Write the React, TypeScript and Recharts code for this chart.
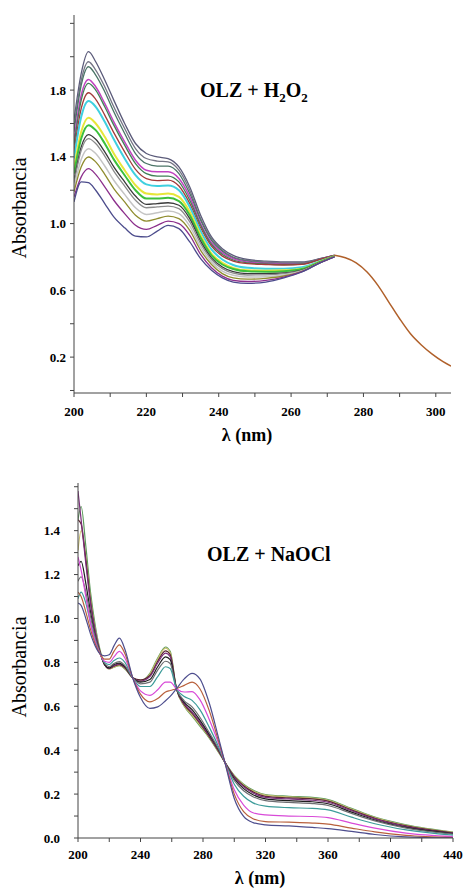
import React from 'react';
import { LineChart, Line, XAxis, YAxis } from 'recharts';

// ---------- Top panel: OLZ + H2O2 ----------
const topWavelengths = [200, 202, 204, 206, 208.5, 211, 214, 217, 220, 223, 226, 229, 232, 235, 238, 241, 244, 248, 253, 258, 263, 268, 272];
const topS1 = [1.62, 1.9, 2.03, 1.97, 1.86, 1.74, 1.6, 1.48, 1.42, 1.4, 1.39, 1.34, 1.22, 1.05, 0.92, 0.85, 0.81, 0.785, 0.775, 0.77, 0.77, 0.79, 0.81];
const topS2 = [1.58, 1.86, 1.97, 1.92, 1.82, 1.7, 1.57, 1.45, 1.39, 1.375, 1.37, 1.32, 1.2, 1.03, 0.91, 0.84, 0.8, 0.78, 0.77, 0.765, 0.765, 0.79, 0.81];
const topS3 = [1.55, 1.83, 1.94, 1.89, 1.79, 1.67, 1.54, 1.42, 1.36, 1.345, 1.345, 1.3, 1.18, 1.02, 0.9, 0.835, 0.795, 0.775, 0.765, 0.76, 0.762, 0.788, 0.81];
const topS4 = [1.5, 1.77, 1.864, 1.82, 1.72, 1.61, 1.49, 1.38, 1.32, 1.31, 1.31, 1.27, 1.16, 1.0, 0.885, 0.825, 0.79, 0.77, 0.762, 0.758, 0.76, 0.787, 0.81];
const topS5 = [1.47, 1.74, 1.84, 1.8, 1.7, 1.59, 1.47, 1.36, 1.3, 1.285, 1.285, 1.25, 1.14, 0.99, 0.875, 0.815, 0.782, 0.765, 0.758, 0.755, 0.758, 0.786, 0.81];
const topS6 = [1.43, 1.69, 1.784, 1.745, 1.65, 1.545, 1.43, 1.325, 1.27, 1.258, 1.26, 1.225, 1.12, 0.975, 0.865, 0.805, 0.775, 0.76, 0.755, 0.752, 0.756, 0.785, 0.81];
const topS7 = [1.39, 1.64, 1.734, 1.7, 1.61, 1.505, 1.39, 1.29, 1.235, 1.225, 1.228, 1.2, 1.1, 0.955, 0.845, 0.785, 0.752, 0.735, 0.73, 0.73, 0.738, 0.775, 0.805];
const topS8 = [1.33, 1.55, 1.634, 1.6, 1.52, 1.42, 1.32, 1.23, 1.18, 1.175, 1.18, 1.16, 1.07, 0.93, 0.82, 0.765, 0.735, 0.72, 0.718, 0.72, 0.73, 0.772, 0.805];
const topS9 = [1.3, 1.51, 1.59, 1.56, 1.48, 1.385, 1.29, 1.2, 1.15, 1.15, 1.155, 1.135, 1.05, 0.915, 0.81, 0.755, 0.728, 0.714, 0.712, 0.715, 0.728, 0.77, 0.805];
const topS10 = [1.26, 1.46, 1.533, 1.505, 1.43, 1.34, 1.25, 1.165, 1.115, 1.12, 1.125, 1.11, 1.03, 0.895, 0.795, 0.74, 0.712, 0.7, 0.7, 0.705, 0.722, 0.768, 0.803];
const topS11 = [1.24, 1.44, 1.509, 1.48, 1.405, 1.315, 1.225, 1.14, 1.095, 1.1, 1.105, 1.09, 1.01, 0.88, 0.785, 0.73, 0.703, 0.692, 0.693, 0.7, 0.72, 0.767, 0.803];
const topS12 = [1.21, 1.385, 1.449, 1.42, 1.345, 1.26, 1.175, 1.095, 1.055, 1.065, 1.075, 1.06, 0.985, 0.86, 0.77, 0.715, 0.69, 0.68, 0.682, 0.692, 0.716, 0.766, 0.802];
const topS13 = [1.19, 1.34, 1.399, 1.37, 1.295, 1.21, 1.13, 1.05, 1.015, 1.03, 1.045, 1.03, 0.96, 0.84, 0.755, 0.7, 0.675, 0.667, 0.672, 0.686, 0.714, 0.766, 0.802];
const topS14 = [1.16, 1.28, 1.329, 1.295, 1.22, 1.14, 1.06, 0.99, 0.965, 0.99, 1.015, 1.0, 0.93, 0.815, 0.735, 0.685, 0.66, 0.653, 0.66, 0.68, 0.712, 0.765, 0.801];
const topS15 = [1.13, 1.25, 1.245, 1.2, 1.12, 1.04, 0.975, 0.925, 0.92, 0.955, 0.99, 0.97, 0.89, 0.79, 0.72, 0.675, 0.65, 0.642, 0.65, 0.675, 0.71, 0.765, 0.8];
const topTailWavelengths = [272, 275, 278, 281, 284, 287, 290, 293, 296, 299, 302, 304.2];
const topTailValues = [0.81, 0.795, 0.765, 0.71, 0.63, 0.53, 0.43, 0.34, 0.273, 0.218, 0.173, 0.146];

const topXTicks = [200, 210, 220, 230, 240, 250, 260, 270, 280, 290, 300];
const topXLabels = [200, 220, 240, 260, 280, 300];
const topYTicks = [0, 0.2, 0.4, 0.6, 0.8, 1.0, 1.2, 1.4, 1.6, 1.8, 2.0, 2.2];
const topYLabels = [0.2, 0.6, 1.0, 1.4, 1.8];

// ---------- Bottom panel: OLZ + NaOCl ----------
const botWavelengths = [200, 202, 205, 208, 211, 214, 217, 220, 223, 226.5, 230, 235, 240, 246, 251, 256, 259, 263, 268, 273, 278, 284, 290, 294, 300, 306, 312, 320, 335, 350, 360, 375, 390, 410, 440];
const botGreen = [1.45, 1.51, 1.33, 1.12, 0.97, 0.86, 0.79, 0.77, 0.778, 0.785, 0.77, 0.73, 0.715, 0.75, 0.82, 0.87, 0.85, 0.68, 0.6, 0.555, 0.51, 0.455, 0.39, 0.345, 0.285, 0.245, 0.218, 0.198, 0.19, 0.185, 0.175, 0.135, 0.095, 0.06, 0.027];
const botYellow = [1.31, 1.4, 1.28, 1.09, 0.95, 0.855, 0.79, 0.77, 0.778, 0.786, 0.772, 0.73, 0.717, 0.747, 0.815, 0.865, 0.845, 0.68, 0.602, 0.56, 0.515, 0.458, 0.392, 0.345, 0.283, 0.242, 0.215, 0.195, 0.187, 0.182, 0.172, 0.132, 0.093, 0.058, 0.026];
const botDarkBrown = [1.45, 1.43, 1.27, 1.08, 0.94, 0.85, 0.79, 0.772, 0.782, 0.79, 0.775, 0.73, 0.72, 0.74, 0.805, 0.852, 0.835, 0.68, 0.607, 0.568, 0.522, 0.462, 0.395, 0.345, 0.28, 0.238, 0.21, 0.19, 0.183, 0.178, 0.168, 0.128, 0.09, 0.055, 0.024];
const botPurple = [1.58, 1.45, 1.25, 1.07, 0.94, 0.85, 0.79, 0.773, 0.785, 0.793, 0.777, 0.73, 0.715, 0.735, 0.797, 0.842, 0.826, 0.68, 0.612, 0.575, 0.528, 0.466, 0.398, 0.345, 0.276, 0.233, 0.205, 0.185, 0.178, 0.172, 0.163, 0.124, 0.087, 0.052, 0.022];
const botBlack = [1.24, 1.26, 1.16, 1.03, 0.92, 0.845, 0.79, 0.775, 0.79, 0.797, 0.78, 0.73, 0.71, 0.722, 0.78, 0.825, 0.812, 0.68, 0.618, 0.585, 0.537, 0.472, 0.402, 0.345, 0.27, 0.225, 0.197, 0.178, 0.17, 0.165, 0.156, 0.118, 0.082, 0.048, 0.02];
const botGray = [1.17, 1.19, 1.12, 1.01, 0.915, 0.845, 0.795, 0.78, 0.795, 0.803, 0.785, 0.73, 0.702, 0.71, 0.765, 0.805, 0.795, 0.68, 0.625, 0.597, 0.55, 0.48, 0.405, 0.345, 0.262, 0.215, 0.188, 0.17, 0.162, 0.157, 0.148, 0.112, 0.078, 0.045, 0.018];
const botTeal = [1.09, 1.12, 1.07, 0.98, 0.9, 0.842, 0.8, 0.79, 0.808, 0.82, 0.8, 0.73, 0.69, 0.69, 0.735, 0.78, 0.772, 0.68, 0.645, 0.627, 0.585, 0.505, 0.415, 0.345, 0.245, 0.19, 0.16, 0.145, 0.138, 0.135, 0.128, 0.095, 0.065, 0.037, 0.013];
const botMagenta = [1.28, 1.22, 1.1, 0.98, 0.895, 0.84, 0.805, 0.8, 0.825, 0.85, 0.82, 0.73, 0.67, 0.65, 0.675, 0.71, 0.71, 0.68, 0.665, 0.667, 0.63, 0.54, 0.43, 0.345, 0.22, 0.15, 0.115, 0.105, 0.1, 0.098, 0.093, 0.068, 0.045, 0.022, 0.006];
const botBrown = [1.12, 1.1, 1.03, 0.95, 0.885, 0.84, 0.815, 0.815, 0.85, 0.88, 0.84, 0.73, 0.655, 0.62, 0.635, 0.665, 0.672, 0.68, 0.695, 0.71, 0.68, 0.58, 0.44, 0.345, 0.2, 0.12, 0.088, 0.075, 0.072, 0.068, 0.063, 0.045, 0.028, 0.012, 0.002];
const botNavy = [1.07, 1.06, 1.0, 0.93, 0.875, 0.84, 0.83, 0.835, 0.875, 0.91, 0.86, 0.73, 0.64, 0.59, 0.597, 0.625, 0.645, 0.68, 0.725, 0.75, 0.725, 0.615, 0.455, 0.345, 0.18, 0.098, 0.07, 0.06, 0.055, 0.048, 0.043, 0.03, 0.016, 0.005, 0.0];

const botXTicks = [200, 220, 240, 260, 280, 300, 320, 340, 360, 380, 400, 420, 440];
const botXLabels = [200, 240, 280, 320, 360, 400, 440];
const botYTicks = [0, 0.1, 0.2, 0.3, 0.4, 0.5, 0.6, 0.7, 0.8, 0.9, 1.0, 1.1, 1.2, 1.3, 1.4, 1.5, 1.6];
const botYLabels = [0, 0.2, 0.4, 0.6, 0.8, 1.0, 1.2, 1.4];

// ---------- styles (kept apart from data) ----------
const topSeries = [
  { values: topS1, color: '#5b5b7a', w: 1.3 },
  { values: topS2, color: '#757585', w: 1.3 },
  { values: topS3, color: '#4a7466', w: 1.3 },
  { values: topS4, color: '#c043c0', w: 1.5 },
  { values: topS5, color: '#3f7f55', w: 1.3 },
  { values: topS6, color: '#a33a3a', w: 1.3 },
  { values: topS7, color: '#3fd0e0', w: 2 },
  { values: topS8, color: '#e6e63a', w: 2 },
  { values: topS9, color: '#3cc03c', w: 2 },
  { values: topS10, color: '#3a3a3a', w: 1.3 },
  { values: topS11, color: '#8c8c8c', w: 1.3 },
  { values: topS12, color: '#c4c4c4', w: 1.5 },
  { values: topS13, color: '#8f8c2e', w: 1.3 },
  { values: topS14, color: '#8c2f8c', w: 1.3 },
  { values: topS15, color: '#4c4c8c', w: 1.3 },
];
const botSeries = [
  { values: botGreen, color: '#5b9a5b' },
  { values: botYellow, color: '#c8bf6e' },
  { values: botDarkBrown, color: '#5a2830' },
  { values: botPurple, color: '#7a2c7a' },
  { values: botBlack, color: '#1e1e1e' },
  { values: botGray, color: '#6e6e72' },
  { values: botTeal, color: '#3c9c9a' },
  { values: botMagenta, color: '#d84ad8' },
  { values: botBrown, color: '#b8603c' },
  { values: botNavy, color: '#4e4e8e' },
];

const FONT = "'Liberation Serif', 'Times New Roman', 'DejaVu Serif', serif";
const tickStyle = {
  fontSize: 13,
  fontWeight: 700,
  fill: '#000',
  fontFamily: FONT,
  style: { fontFamily: FONT, fontWeight: 700 },
};
const txt = { fontFamily: FONT };

const toRows = (xs: number[], ys: number[]) => xs.map((nm, i) => ({ nm, v: ys[i] }));
const labelFmt = (labels: number[], digits: number) => (v: number) =>
  labels.some((l) => Math.abs(l - v) < 1e-6) ? v.toFixed(digits) : '';

export default function App() {
  return (
    <div style={{ position: 'absolute', left: 0, top: 0, width: 465, height: 888, background: '#fff', fontFamily: FONT }}>
      <div style={{ position: 'absolute', left: 0, top: 0, fontFamily: FONT }}>
        <LineChart width={465} height={440} margin={{ top: 15, right: 14, bottom: 0, left: 0 }} style={txt}>
          <XAxis
            dataKey="nm"
            type="number"
            domain={[200, 304.2]}
            ticks={topXTicks}
            tickFormatter={labelFmt(topXLabels, 0)}
            height={47}
            tickSize={4}
            tickMargin={10}
            tick={tickStyle}
            stroke="#444"
            allowDataOverflow
          />
          <YAxis
            type="number"
            domain={[-0.015, 2.25]}
            ticks={topYTicks}
            tickFormatter={labelFmt(topYLabels, 1)}
            width={74}
            tickSize={4}
            tickMargin={4}
            tick={tickStyle}
            stroke="#444"
            allowDataOverflow
          />
          {topSeries.map((s, i) => (
            <Line
              key={'t' + i}
              data={toRows(topWavelengths, s.values)}
              dataKey="v"
              type="monotone"
              stroke={s.color}
              strokeWidth={s.w}
              dot={false}
              isAnimationActive={false}
            />
          ))}
          <Line
            data={toRows(topTailWavelengths, topTailValues)}
            dataKey="v"
            type="monotone"
            stroke="#b0602a"
            strokeWidth={1.5}
            dot={false}
            isAnimationActive={false}
          />
        </LineChart>
      </div>
      <div style={{ position: 'absolute', left: 0, top: 440, fontFamily: FONT }}>
        <LineChart width={465} height={448} margin={{ top: 43, right: 12, bottom: 0, left: 0 }} style={txt}>
          <XAxis
            dataKey="nm"
            type="number"
            domain={[200, 440]}
            ticks={botXTicks}
            tickFormatter={labelFmt(botXLabels, 0)}
            height={50}
            tickSize={4}
            tickMargin={8}
            tick={tickStyle}
            stroke="#444"
            allowDataOverflow
          />
          <YAxis
            type="number"
            domain={[0, 1.617]}
            ticks={botYTicks}
            tickFormatter={labelFmt(botYLabels, 1)}
            width={78}
            tickSize={4}
            tickMargin={14}
            tick={tickStyle}
            stroke="#444"
            allowDataOverflow
          />
          {botSeries.map((s, i) => (
            <Line
              key={'b' + i}
              data={toRows(botWavelengths, s.values)}
              dataKey="v"
              type="monotone"
              stroke={s.color}
              strokeWidth={1.2}
              dot={false}
              isAnimationActive={false}
            />
          ))}
        </LineChart>
      </div>
      <svg width={465} height={888} style={{ position: 'absolute', left: 0, top: 0, pointerEvents: 'none', fontFamily: FONT }}>
        <text x={200} y={97} fontSize={20} fontWeight={700} style={txt} fill="#000">
          OLZ + H<tspan fontSize={13} dy={5}>2</tspan>
          <tspan dy={-5}>O</tspan>
          <tspan fontSize={13} dy={5}>2</tspan>
        </text>
        <text x={207} y={560.5} fontSize={20} fontWeight={700} style={txt} fill="#000">
          OLZ + NaOCl
        </text>
        <text x={26} y={208} fontSize={20} style={txt} fill="#000" textAnchor="middle" transform="rotate(-90 26 208)">
          Absorbancia
        </text>
        <text x={26} y={667} fontSize={20} style={txt} fill="#000" textAnchor="middle" transform="rotate(-90 26 667)">
          Absorbancia
        </text>
        <text x={247} y={441} fontSize={18} fontWeight={700} style={txt} fill="#000" textAnchor="middle">
          λ (nm)
        </text>
        <text x={260} y={884} fontSize={18} fontWeight={700} style={txt} fill="#000" textAnchor="middle">
          λ (nm)
        </text>
      </svg>
    </div>
  );
}
